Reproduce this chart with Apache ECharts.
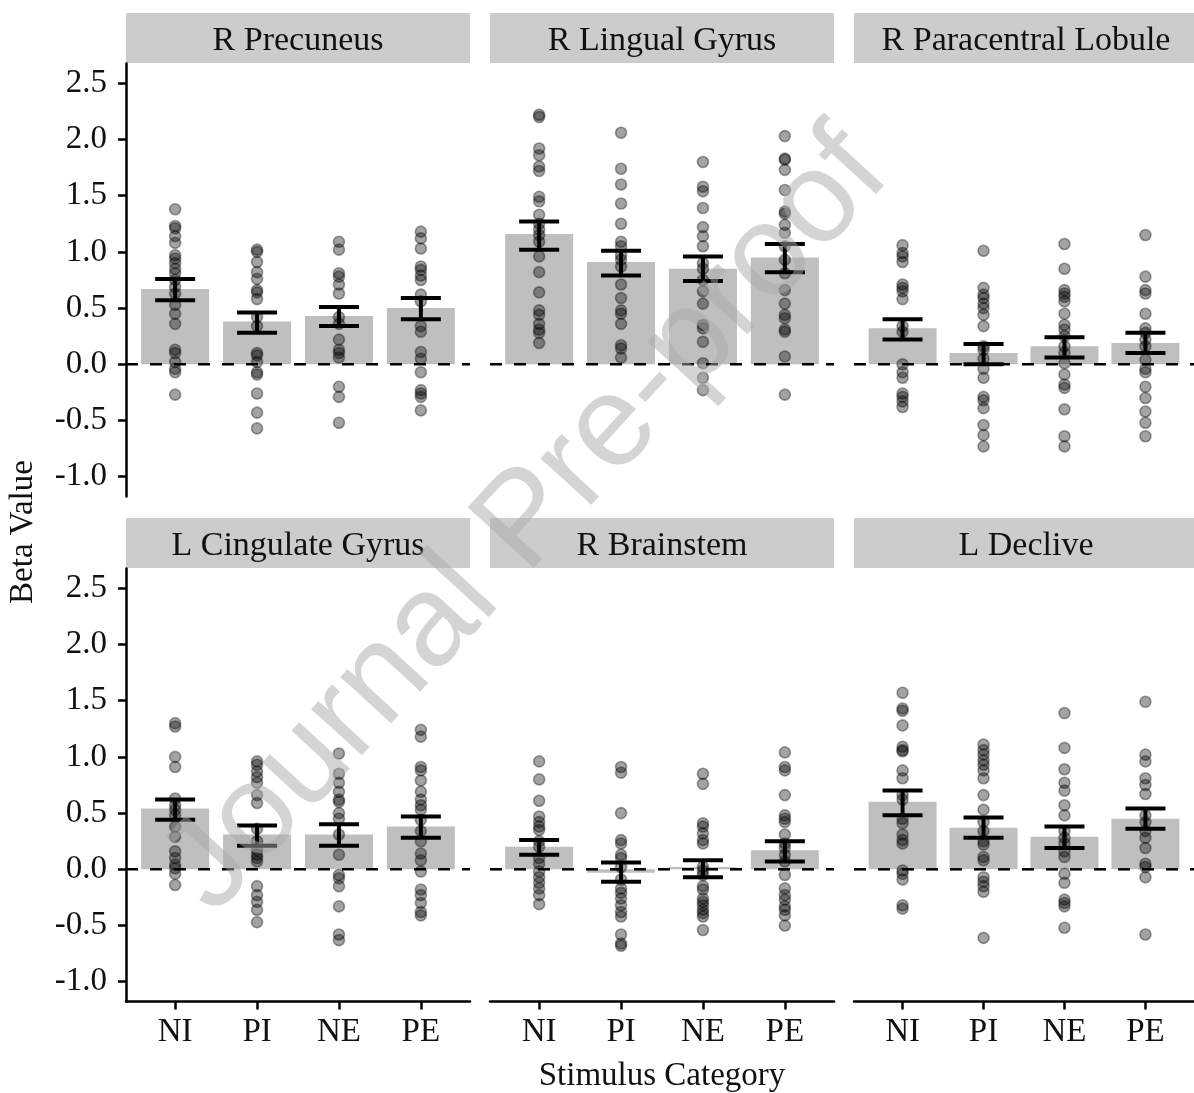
<!DOCTYPE html>
<html>
<head>
<meta charset="utf-8">
<script src="https://cdn.jsdelivr.net/npm/echarts@6/dist/echarts.min.js"></script>
<style>
  html, body { margin: 0; padding: 0; background: #fff; }
  #chart { width: 1194px; height: 1093px; }
</style>
</head>
<body>
<div id="chart"></div>
<script>
// beta values per ROI and stimulus category
const categories = ['NI', 'PI', 'NE', 'PE'];
const regions = ['R Precuneus', 'R Lingual Gyrus', 'R Paracentral Lobule',
                 'L Cingulate Gyrus', 'R Brainstem', 'L Declive'];
const yTicks = [-1.0, -0.5, 0, 0.5, 1.0, 1.5, 2.0, 2.5];

// bar heights (mean) and error bar ends, one row per region, columns NI PI NE PE
const barMeans = [
  [0.67, 0.38, 0.43, 0.50],
  [1.16, 0.91, 0.85, 0.95],
  [0.32, 0.10, 0.16, 0.19],
  [0.54, 0.31, 0.31, 0.38],
  [0.20, -0.03, 0.02, 0.17],
  [0.60, 0.37, 0.29, 0.45]
];
const errLow = [
  [0.57, 0.28, 0.34, 0.40],
  [1.02, 0.79, 0.74, 0.82],
  [0.22, 0.00, 0.06, 0.10],
  [0.44, 0.21, 0.21, 0.28],
  [0.13, -0.11, -0.07, 0.07],
  [0.48, 0.28, 0.19, 0.36]
];
const errHigh = [
  [0.76, 0.46, 0.51, 0.59],
  [1.27, 1.01, 0.96, 1.07],
  [0.40, 0.18, 0.24, 0.28],
  [0.62, 0.39, 0.40, 0.47],
  [0.26, 0.06, 0.08, 0.25],
  [0.70, 0.46, 0.38, 0.54]
];

// individual subject values
const ptsPrecuneus = [
  [1.38, 1.23, 1.21, 1.14, 1.08, 0.97, 0.94, 0.90, 0.85, 0.81, 0.75, 0.69, 0.63, 0.53, 0.45, 0.36, 0.13, 0.10, 0.02, -0.04, -0.07, -0.27],
  [1.02, 1.00, 0.91, 0.82, 0.76, 0.66, 0.64, 0.58, 0.42, 0.34, 0.10, 0.08, 0.02, -0.07, -0.09, -0.26, -0.43, -0.57],
  [1.09, 1.02, 0.81, 0.78, 0.71, 0.63, 0.42, 0.36, 0.22, 0.13, 0.10, 0.06, -0.20, -0.29, -0.52],
  [1.18, 1.12, 1.03, 0.87, 0.84, 0.79, 0.75, 0.62, 0.56, 0.34, 0.29, 0.11, 0.05, -0.07, -0.23, -0.26, -0.29, -0.41]
];
const ptsLingual = [
  [2.22, 2.20, 1.92, 1.86, 1.76, 1.72, 1.49, 1.45, 1.33, 1.25, 1.20, 1.15, 1.09, 0.96, 0.82, 0.64, 0.48, 0.44, 0.36, 0.31, 0.28, 0.19],
  [2.06, 1.74, 1.60, 1.43, 1.25, 1.09, 1.05, 0.97, 0.93, 0.87, 0.71, 0.59, 0.48, 0.45, 0.36, 0.17, 0.14, 0.06],
  [1.80, 1.58, 1.54, 1.39, 1.22, 1.14, 1.05, 0.90, 0.85, 0.75, 0.65, 0.54, 0.35, 0.32, 0.20, 0.01, -0.12, -0.23],
  [2.03, 1.83, 1.82, 1.73, 1.55, 1.36, 1.34, 1.24, 1.17, 1.05, 0.93, 0.81, 0.66, 0.54, 0.44, 0.41, 0.31, 0.29, 0.07, -0.27]
];
const ptsParacentral = [
  [1.06, 0.99, 0.96, 0.91, 0.71, 0.68, 0.65, 0.58, 0.34, 0.29, 0.00, -0.07, -0.12, -0.26, -0.29, -0.33, -0.38],
  [1.01, 0.68, 0.62, 0.59, 0.54, 0.50, 0.44, 0.34, 0.16, 0.13, 0.05, -0.04, -0.12, -0.29, -0.32, -0.39, -0.54, -0.63, -0.73],
  [1.07, 0.85, 0.66, 0.63, 0.60, 0.56, 0.45, 0.35, 0.31, 0.25, 0.16, 0.10, 0.01, -0.09, -0.18, -0.21, -0.40, -0.64, -0.73],
  [1.15, 0.78, 0.66, 0.63, 0.45, 0.32, 0.28, 0.22, 0.16, 0.04, -0.04, -0.07, -0.20, -0.30, -0.42, -0.52, -0.64]
];
const ptsCingulate = [
  [1.30, 1.27, 1.00, 0.91, 0.63, 0.57, 0.53, 0.48, 0.38, 0.29, 0.16, 0.10, 0.04, 0.01, -0.04, -0.14],
  [0.96, 0.93, 0.87, 0.82, 0.77, 0.66, 0.59, 0.36, 0.25, 0.17, 0.13, 0.10, 0.07, -0.15, -0.23, -0.29, -0.36, -0.47],
  [1.03, 0.85, 0.77, 0.69, 0.62, 0.60, 0.50, 0.45, 0.31, 0.13, -0.05, -0.08, -0.15, -0.33, -0.58, -0.63],
  [1.24, 1.18, 0.91, 0.88, 0.79, 0.69, 0.62, 0.57, 0.53, 0.44, 0.34, 0.25, 0.14, 0.08, -0.02, -0.18, -0.23, -0.30, -0.38, -0.41]
];
const ptsBrainstem = [
  [0.96, 0.80, 0.61, 0.47, 0.42, 0.38, 0.35, 0.25, 0.20, 0.10, 0.05, -0.02, -0.07, -0.12, -0.17, -0.23, -0.31],
  [0.91, 0.86, 0.50, 0.26, 0.23, 0.13, 0.10, 0.02, -0.09, -0.17, -0.21, -0.26, -0.32, -0.38, -0.42, -0.58, -0.66, -0.68],
  [0.85, 0.76, 0.41, 0.38, 0.32, 0.26, 0.23, 0.02, -0.01, -0.05, -0.15, -0.18, -0.26, -0.29, -0.32, -0.36, -0.39, -0.42, -0.54],
  [1.04, 0.91, 0.88, 0.66, 0.48, 0.45, 0.42, 0.31, 0.23, 0.19, 0.13, 0.07, -0.05, -0.17, -0.23, -0.27, -0.33, -0.36, -0.41, -0.50]
];
const ptsDeclive = [
  [1.57, 1.43, 1.41, 1.28, 1.09, 1.06, 1.05, 0.88, 0.81, 0.66, 0.62, 0.45, 0.41, 0.31, 0.26, 0.23, -0.01, -0.04, -0.09, -0.32, -0.35],
  [1.11, 1.06, 1.02, 0.97, 0.93, 0.88, 0.81, 0.66, 0.53, 0.42, 0.34, 0.25, 0.22, 0.11, 0.08, -0.07, -0.11, -0.15, -0.20, -0.61],
  [1.39, 1.08, 0.89, 0.77, 0.70, 0.57, 0.48, 0.34, 0.28, 0.23, 0.16, 0.11, -0.04, -0.12, -0.27, -0.30, -0.33, -0.52],
  [1.49, 1.02, 0.96, 0.81, 0.75, 0.67, 0.48, 0.42, 0.34, 0.28, 0.19, 0.05, 0.02, -0.07, -0.58]
];
const points = [ptsPrecuneus, ptsLingual, ptsParacentral, ptsCingulate, ptsBrainstem, ptsDeclive];

// layout
const FONT = '"Liberation Serif", "Times New Roman", serif';
const colLeft = [126, 490, 854];
const rowTop = [63.6, 568.6];
const panelW = 344, panelH = 432.8, stripH = 50;

const grids = [], xAxes = [], yAxes = [], series = [], graphics = [];

regions.forEach(function(name, i) {
  const r = Math.floor(i / 3), c = i % 3;
  grids.push({ left: colLeft[c], top: rowTop[r], width: panelW, height: panelH });

  xAxes.push({
    gridIndex: i, type: 'value', min: 0.4, max: 4.6,
    show: r === 1,
    splitLine: { show: false },
    axisLine: { show: true, onZero: false, lineStyle: { color: '#000', width: 2.5 } },
    axisTick: { show: true, length: 8, lineStyle: { color: '#000', width: 2.5 }, customValues: [1, 2, 3, 4] },
    axisLabel: {
      customValues: [1, 2, 3, 4], margin: 14,
      fontFamily: FONT, fontSize: 33, color: '#111',
      formatter: function(v) { return categories[Math.round(v) - 1]; }
    }
  });

  yAxes.push({
    gridIndex: i, type: 'value', min: -1.175, max: 2.675,
    show: c === 0,
    splitLine: { show: false },
    axisLine: { show: true, onZero: false, lineStyle: { color: '#000', width: 2.5 } },
    axisTick: { show: true, length: 8, lineStyle: { color: '#000', width: 2.5 }, customValues: yTicks },
    axisLabel: {
      customValues: yTicks, margin: 19, padding: [6, 0, 0, 0],
      fontFamily: FONT, fontSize: 33, color: '#111',
      formatter: function(v) { return v.toFixed(1); }
    }
  });

  series.push({
    type: 'bar', xAxisIndex: i, yAxisIndex: i, z: 1,
    barWidth: 68, silent: true,
    itemStyle: { color: '#bfbfbf' },
    data: barMeans[i].map(function(m, k) { return [k + 1, m]; })
  });

  series.push({
    type: 'line', xAxisIndex: i, yAxisIndex: i, z: 2,
    symbol: 'none', silent: true,
    lineStyle: { color: '#000', width: 2.5, type: [12, 12] },
    data: [[0.4, 0], [4.6, 0]]
  });

  const pts = [];
  points[i].forEach(function(vals, k) {
    vals.forEach(function(v) { pts.push([k + 1, v]); });
  });
  series.push({
    type: 'scatter', xAxisIndex: i, yAxisIndex: i, z: 3,
    symbolSize: 11, silent: true,
    itemStyle: { color: 'rgba(0,0,0,0.36)', borderColor: 'rgba(0,0,0,0.36)', borderWidth: 1.6, opacity: 1 },
    data: pts
  });

  series.push({
    type: 'custom', xAxisIndex: i, yAxisIndex: i, z: 4, silent: true,
    data: barMeans[i].map(function(m, k) { return [k + 1, errLow[i][k], errHigh[i][k]]; }),
    renderItem: function(params, api) {
      const lo = api.coord([api.value(0), api.value(1)]);
      const hi = api.coord([api.value(0), api.value(2)]);
      const hw = 20;
      const st = { stroke: '#000', lineWidth: 4 };
      return {
        type: 'group',
        children: [
          { type: 'line', shape: { x1: lo[0], y1: lo[1], x2: hi[0], y2: hi[1] }, style: st },
          { type: 'line', shape: { x1: lo[0] - hw, y1: lo[1], x2: lo[0] + hw, y2: lo[1] }, style: st },
          { type: 'line', shape: { x1: hi[0] - hw, y1: hi[1], x2: hi[0] + hw, y2: hi[1] }, style: st }
        ]
      };
    }
  });

  // facet strip
  graphics.push({
    type: 'rect', left: colLeft[c], top: rowTop[r] - stripH - 0.6,
    shape: { width: panelW, height: stripH }, style: { fill: '#cccccc' }, silent: true
  });
  graphics.push({
    type: 'text', x: colLeft[c] + panelW / 2, y: rowTop[r] - stripH / 2 + 2,
    style: { text: name, font: '34px ' + FONT, fill: '#111', align: 'center', verticalAlign: 'middle' },
    silent: true
  });
});

graphics.push({
  type: 'text', x: 23, y: 532, rotation: Math.PI / 2,
  style: { text: 'Beta Value', font: '33px ' + FONT, fill: '#111', align: 'center', verticalAlign: 'middle' }
});
graphics.push({
  type: 'text', x: 662, y: 1076,
  style: { text: 'Stimulus Category', font: '33px ' + FONT, fill: '#111', align: 'center', verticalAlign: 'middle' }
});
// watermark
graphics.push({
  type: 'text', x: 527, y: 522, rotation: 47.5 * Math.PI / 180, z: 100,
  style: { text: 'Journal Pre-proof', font: '130px "Liberation Sans", Arial, sans-serif',
           fill: 'rgba(170,170,170,0.5)', align: 'center', verticalAlign: 'middle' },
  silent: true
});

const chart = echarts.init(document.getElementById('chart'), null, { renderer: 'canvas' });
chart.setOption({
  animation: false,
  backgroundColor: '#fff',
  grid: grids,
  xAxis: xAxes,
  yAxis: yAxes,
  series: series,
  graphic: { elements: graphics }
});
</script>
</body>
</html>
